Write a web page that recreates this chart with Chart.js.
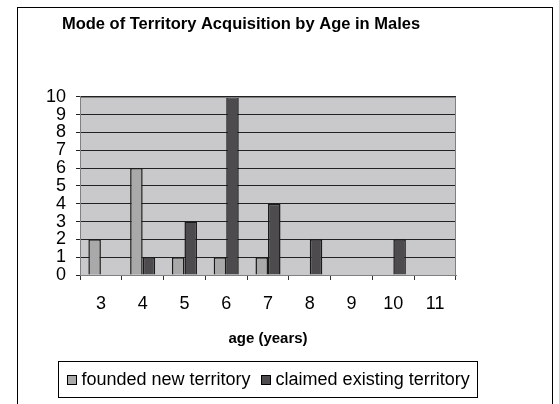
<!DOCTYPE html>
<html>
<head>
<meta charset="utf-8">
<script src="https://cdn.jsdelivr.net/npm/chart.js@4/dist/chart.umd.min.js"></script>
<style>
  body { margin: 0; background: #fff; }
  #wrap { width: 559px; height: 404px; }
</style>
</head>
<body>
<div id="wrap"><canvas id="chart" width="559" height="404"></canvas></div>
<script>
// data
const ages = ['3', '4', '5', '6', '7', '8', '9', '10', '11'];
const founded = [2, 6, 1, 1, 1, 0, 0, 0, 0];
const claimed = [0, 1, 3, 10, 4, 2, 0, 2, 0];
const yTicks = [0, 1, 2, 3, 4, 5, 6, 7, 8, 9, 10];

const FONT = 'Arial, "Liberation Sans", sans-serif';

// frame, plot background and legend box (Excel style)
const excelLook = {
  id: 'excelLook',
  beforeDraw(chart) {
    const c = chart.ctx, a = chart.chartArea;
    c.save();
    c.fillStyle = '#fff';
    c.fillRect(0, 0, chart.width, chart.height);
    c.strokeStyle = '#000';
    c.lineWidth = 1;
    c.strokeRect(17.5, 7.5, 535, 420);
    c.fillStyle = '#c9c9cc';
    c.fillRect(a.left, a.top, a.right - a.left, a.bottom - a.top);
    c.restore();
  },
  afterDatasetsDraw(chart) {
    const c = chart.ctx, a = chart.chartArea;
    c.save();
    c.strokeStyle = '#808080';
    c.lineWidth = 1;
    c.strokeRect(Math.round(a.left) + 0.5, Math.round(a.top) + 0.5,
      Math.round(a.right - a.left) - 1, Math.round(a.bottom - a.top));
    c.restore();
  },
  afterDraw(chart) {
    const c = chart.ctx, a = chart.chartArea;
    c.save();
    // legend
    const sets = chart.data.datasets;
    c.font = '18px ' + FONT;
    const sq = 9, gap = 6, itemGap = 10, pad = 8;
    let total = 0;
    sets.forEach((d, i) => {
      total += sq + gap + c.measureText(d.label).width + (i ? itemGap : 0);
    });
    const cx = (a.left + a.right) / 2;
    const boxW = total + pad * 2, boxTop = 361.5, boxH = 36;
    const boxL = Math.round(cx - boxW / 2) + 0.5;
    c.strokeStyle = '#000';
    c.lineWidth = 1;
    c.strokeRect(boxL, boxTop, Math.round(boxW), boxH);
    let x = boxL + pad;
    const yMid = boxTop + boxH / 2;
    c.textBaseline = 'middle';
    c.textAlign = 'left';
    sets.forEach((d, i) => {
      if (i) x += itemGap;
      c.fillStyle = d.backgroundColor;
      c.fillRect(Math.round(x) + 0.5, Math.round(yMid - sq / 2) + 0.5, sq, sq);
      c.strokeRect(Math.round(x) + 0.5, Math.round(yMid - sq / 2) + 0.5, sq, sq);
      x += sq + gap;
      c.fillStyle = '#000';
      c.fillText(d.label, x, yMid + 1);
      x += c.measureText(d.label).width;
    });
    c.restore();
  }
};

new Chart(document.getElementById('chart'), {
  type: 'bar',
  data: {
    labels: ages,
    datasets: [{
      label: 'founded new territory',
      data: founded,
      backgroundColor: '#a9a9a9',
      borderColor: '#1a1a1a',
      borderWidth: 1.5,
      categoryPercentage: 0.6,
      barPercentage: 1.0
    }, {
      label: 'claimed existing territory',
      data: claimed,
      backgroundColor: '#4d4b4d',
      borderColor: '#1a1a1a',
      borderWidth: 1.5,
      categoryPercentage: 0.6,
      barPercentage: 1.0
    }]
  },
  options: {
    responsive: false,
    animation: false,
    layout: { padding: { left: 26, right: 103, top: 0, bottom: 0 } },
    plugins: {
      legend: { display: false },
      tooltip: { enabled: false },
      title: {
        display: true,
        text: 'Mode of Territory Acquisition by Age in Males',
        color: '#000',
        font: { family: FONT, size: 16.5, weight: 'bold' },
        padding: { top: 15, bottom: 62 }
      }
    },
    scales: {
      x: {
        grid: {
          offset: true,
          drawOnChartArea: false,
          drawTicks: true,
          tickLength: 5,
          color: '#333'
        },
        border: { display: true, color: '#808080' },
        ticks: {
          color: '#000',
          font: { family: FONT, size: 18 },
          padding: 13,
          maxRotation: 0
        },
        title: {
          display: true,
          text: 'age (years)',
          color: '#000',
          font: { family: FONT, size: 15, weight: 'bold' },
          padding: { top: 0, bottom: 56 }
        },
        afterFit(scale) { scale.height = 129; }
      },
      y: {
        min: 0,
        max: 10,
        afterBuildTicks(scale) { scale.ticks = yTicks.map(v => ({ value: v })); },
        grid: {
          color: '#222',
          drawTicks: true,
          tickLength: 4
        },
        border: { display: true, color: '#808080' },
        ticks: {
          color: '#000',
          font: { family: FONT, size: 18 },
          padding: 10,
          autoSkip: false
        },
        afterFit(scale) { scale.width = 54; }
      }
    }
  },
  plugins: [excelLook]
});
</script>
</body>
</html>
